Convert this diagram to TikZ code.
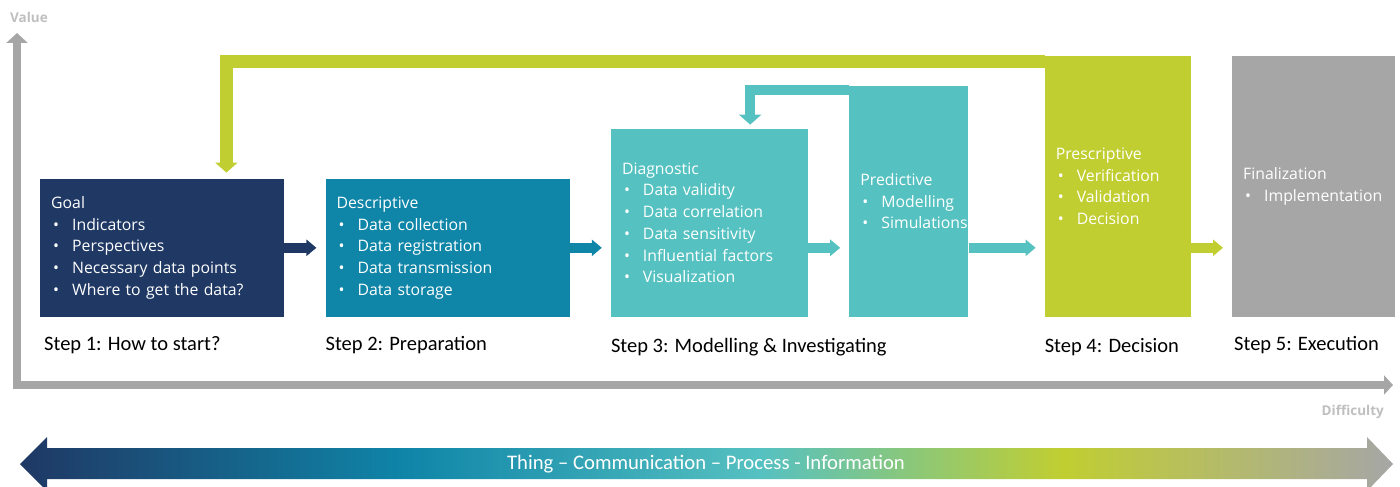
\documentclass[tikz,border=0pt]{standalone}
\usepackage{fontspec}
\setmainfont{Open Sans}
\newfontfamily\calibri{Carlito}
\usetikzlibrary{arrows.meta, positioning}

\definecolor{navy}{HTML}{1F3864}
\definecolor{ocean}{HTML}{0F85A8}
\definecolor{lagoon}{HTML}{56C1C1}
\definecolor{lime}{HTML}{C1CE31}
\definecolor{slate}{HTML}{A6A6A6}
\definecolor{faint}{HTML}{BFBFBF}

% colour run of the bottom band (visible part is 25bp..75bp)
\pgfdeclarehorizontalshading{itflow}{100bp}{color(0bp)=(navy); color(25bp)=(navy);
  color(39bp)=(ocean); color(52bp)=(lagoon); color(63bp)=(lime);
  color(75bp)=(slate); color(100bp)=(slate)}

\hyphenpenalty=10000
\newcommand{\itm}[1]{\\\hspace*{2pt}\makebox[19pt][l]{\textbullet}#1}

\begin{document}
\begin{tikzpicture}[x=1pt, y=-1pt,
  stepbox/.style n args={3}{rectangle, fill=#1, text width=#2, minimum height=#3,
    inner xsep=11pt, inner ysep=0pt, text=white, align=left,
    font=\fontsize{15.8}{21.7}\selectfont},
  steplabel/.style={anchor=base west, inner sep=0pt, font=\calibri\fontsize{20.5}{24}\selectfont},
  axislabel/.style={inner sep=0pt, text=faint, font=\bfseries\fontsize{13.5}{16}\selectfont},
  flow/.style={line width=10pt, -{Triangle[length=10pt,width=16pt]}, shorten >=9pt},
  loopback/.style={line width=#1, -{Triangle[length=10pt,width=22pt]}}]
\useasboundingbox (0,0) rectangle (1400,487);

% Axes
\coordinate (origin) at (17,385);
\coordinate (valuetip) at (17,33);
\coordinate (difftip) at (1393,385);
\draw[slate, line width=8pt, {Triangle[length=10pt,width=21pt]}-{Triangle[length=9pt,width=19pt]}]
  (valuetip) -- (origin) -- (difftip);
\node[axislabel, anchor=base west] (value) at (10,23) {Value};
\node[axislabel, anchor=base east] (difficulty) at (1384,415) {Difficulty};

% Steps
\node[stepbox={navy}{222pt}{138pt}, anchor=south west] (goal) at (40,317)
  {Goal\itm{Indicators}\itm{Perspectives}\itm{Necessary data points}\itm{Where to get the data?}};
\node[stepbox={ocean}{222pt}{138pt}, right=41pt of goal.south east, anchor=south west] (desc)
  {Descriptive\itm{Data collection}\itm{Data registration}\itm{Data transmission}\itm{Data storage}};
\node[stepbox={lagoon}{175pt}{188pt}, right=41pt of desc.south east, anchor=south west] (diag)
  {Diagnostic\itm{Data validity}\itm{Data correlation}\itm{Data sensitivity}\itm{Influential factors}\itm{Visualization}};
\node[stepbox={lagoon}{97pt}{231pt}, right=41pt of diag.south east, anchor=south west] (pred)
  {Predictive\itm{Modelling}\itm{Simulations}};
\node[stepbox={lime}{124pt}{261pt}, right=76pt of pred.south east, anchor=south west] (presc)
  {Prescriptive\itm{Verification}\itm{Validation}\itm{Decision}};
\node[stepbox={slate}{141pt}{261pt}, right=41pt of presc.south east, anchor=south west] (final)
  {Finalization\itm{Implementation}};

% Step captions
\node[steplabel] (step1) at ([shift={(4,33)}]goal.south west) {Step 1: How to start?};
\node[steplabel] (step2) at ([shift={(0,33)}]desc.south west) {Step 2: Preparation};
\node[steplabel] (step3) at ([shift={(0,35)}]diag.south west) {Step 3: Modelling \& Investigating};
\node[steplabel] (step4) at ([shift={(0,35)}]presc.south west) {Step 4: Decision};
\node[steplabel] (step5) at ([shift={(2,33)}]final.south west) {Step 5: Execution};

% Forward arrows
\draw[flow, navy] (goal.east) -- (desc.west);
\draw[flow, ocean] (desc.east) -- (desc.east -| diag.west);
\draw[flow, lagoon] (desc.east -| diag.east) -- (desc.east -| pred.west);
\draw[flow, lagoon] (desc.east -| pred.east) -- (desc.east -| presc.west);
\draw[flow, lime] (desc.east -| presc.east) -- (desc.east -| final.west);

% Feedback loops
\draw[loopback=13pt, lime] ([shift={(0,6)}]presc.north west) -| ([shift={(-58,-6)}]goal.north east);
\draw[loopback=10pt, lagoon] ([shift={(0,4)}]pred.north west) -| ([shift={(-58,-4)}]diag.north east);

% Thing - information band
\shade[shading=itflow] (20,464) -- (47,437) -- (47,448) -- (1367,448) -- (1367,437) -- (1393,464)
  -- (1367,491) -- (1367,479) -- (47,479) -- (47,491) -- cycle;
\node[text=white, font=\calibri\fontsize{20.7}{24}\selectfont] (band) at (706,464)
  {Thing – Communication – Process - Information};
\end{tikzpicture}
\end{document}
